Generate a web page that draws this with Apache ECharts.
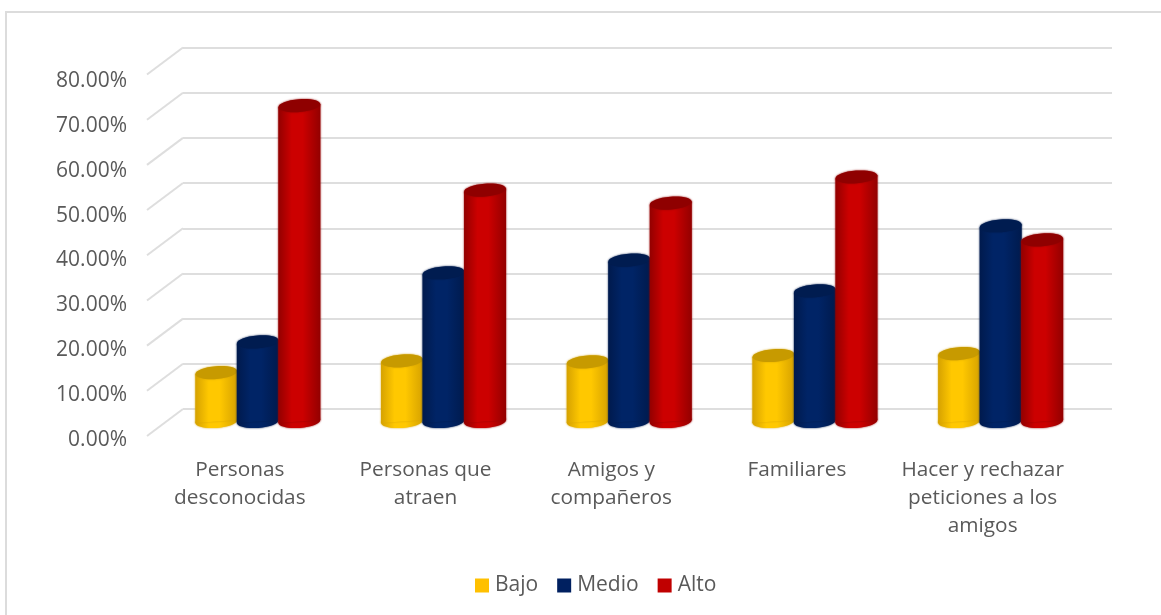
<!DOCTYPE html>
<html>
<head>
<meta charset="utf-8">
<style>html,body{margin:0;padding:0;background:#fff}#c{width:1161px;height:615px}</style>
<script src="https://cdn.jsdelivr.net/npm/echarts@6/dist/echarts.min.js"></script>
</head>
<body>
<div id="c"></div>
<script>
const categories = ['Personas\ndesconocidas', 'Personas que\natraen', 'Amigos y\ncompañeros', 'Familiares', 'Hacer y rechazar\npeticiones a los\namigos'];
const bajo = [10.8, 13.4, 13.2, 14.6, 15.0];
const medio = [17.6, 32.9, 35.7, 28.9, 43.3];
const alto = [69.9, 51.2, 48.3, 54.1, 40.2];
const ticks = [0, 10, 20, 30, 40, 50, 60, 70, 80];

const TEXT = '#595959', FONT = '"Open Sans"';
const chart = echarts.init(document.getElementById('c'));

function cylinder(offsetFrac, edge, mid, top) {
  return function (params, api) {
    const band = api.size([1, 0])[0];
    const base = api.coord([api.value(0), 0]);
    const tip = api.coord([api.value(0), api.value(1)]);
    const cx = base[0] + band * offsetFrac;
    const rx = 21, ry = 6.4, tilt = 1.6;
    const fill = new echarts.graphic.LinearGradient(0, 0, 1, 0, [
      { offset: 0, color: edge }, { offset: 0.32, color: mid }, { offset: 0.58, color: mid }, { offset: 1, color: edge }
    ]);
    const rot = Math.atan2(tilt, rx);
    const soft = { shadowBlur: 2, shadowColor: edge };
    return {
      type: 'group',
      children: [
        { type: 'ellipse', shape: { cx: cx, cy: base[1], rx: rx, ry: ry }, originX: cx, originY: base[1], rotation: rot, style: Object.assign({ fill: fill }, soft) },
        { type: 'polygon', shape: { points: [[cx - rx, tip[1] + tilt], [cx + rx, tip[1] - tilt], [cx + rx, base[1] - tilt], [cx - rx, base[1] + tilt]] }, style: Object.assign({ fill: fill }, soft) },
        { type: 'ellipse', shape: { cx: cx, cy: tip[1], rx: rx, ry: ry }, originX: cx, originY: tip[1], rotation: rot, style: Object.assign({ fill: top }, soft) }
      ]
    };
  };
}

function cylSeries(name, values, offsetFrac, legendColor, edge, mid, top, z) {
  return {
    name: name, type: 'custom', xAxisIndex: 2, yAxisIndex: 2, z: z,
    itemStyle: { color: legendColor },
    encode: { x: 0, y: 1 },
    data: values.map((v, i) => [i, v]),
    renderItem: cylinder(offsetFrac, edge, mid, top)
  };
}

chart.setOption({
  animation: false,
  backgroundColor: '#fff',
  grid: [
    { left: 147, top: 81, width: 928.5, height: 359 },
    { left: 183, top: 47.5, width: 929, height: 361.5 },
    { left: 165, top: 59.9, width: 928.5, height: 361.6 }
  ],
  xAxis: [
    { gridIndex: 0, type: 'category', data: categories, axisLine: { show: false }, axisTick: { show: false },
      axisLabel: { interval: 0, margin: 16, color: TEXT, fontFamily: FONT, fontSize: 20.8, lineHeight: 28 } },
    { gridIndex: 1, type: 'category', data: categories, show: false },
    { gridIndex: 2, type: 'category', data: categories, show: false }
  ],
  yAxis: [
    { gridIndex: 0, type: 'value', min: 0, max: 80, interval: 10, axisLine: { show: false }, axisTick: { show: false }, splitLine: { show: false },
      axisLabel: { margin: 20, color: TEXT, fontFamily: FONT, fontSize: 21, formatter: v => v.toFixed(2) + '%' } },
    { gridIndex: 1, type: 'value', min: 0, max: 80, interval: 10, axisLine: { show: false }, axisTick: { show: false }, axisLabel: { show: false },
      splitLine: { show: true, lineStyle: { color: '#dedede', width: 2 } } },
    { gridIndex: 2, type: 'value', min: 0, max: 80, interval: 10, show: false, splitLine: { show: false } }
  ],
  legend: {
    data: ['Bajo', 'Medio', 'Alto'],
    left: 475, top: 575, padding: 0, icon: 'rect', itemWidth: 14, itemHeight: 14, itemGap: 19,
    textStyle: { color: TEXT, fontFamily: FONT, fontSize: 21, padding: [0, 0, 0, 1] }
  },
  series: [
    {
      type: 'custom', xAxisIndex: 1, yAxisIndex: 1, z: 1, silent: true,
      data: ticks.map(t => [0, t]),
      encode: { x: 0, y: 1 },
      renderItem: function (params, api) {
        const p = api.coord([0, api.value(1)]);
        const x0 = params.coordSys.x;
        return { type: 'line', shape: { x1: x0, y1: p[1], x2: x0 - 36, y2: p[1] + 27 }, style: { stroke: '#dedede', lineWidth: 2 } };
      }
    },
    cylSeries('Bajo', bajo, -0.2235, '#ffc000', '#d6a200', '#ffc800', '#c79a00', 3),
    cylSeries('Medio', medio, 0, '#002060', '#001a4d', '#002466', '#001c50', 4),
    cylSeries('Alto', alto, 0.2235, '#c00000', '#930000', '#cc0000', '#8f0000', 5)
  ],
  graphic: [
    { type: 'polyline', silent: true, z: 0, shape: { points: [[6, 615], [6, 12], [1161, 12]] }, style: { stroke: '#dcdcdc', lineWidth: 2, fill: null } }
  ]
});
</script>
</body>
</html>
